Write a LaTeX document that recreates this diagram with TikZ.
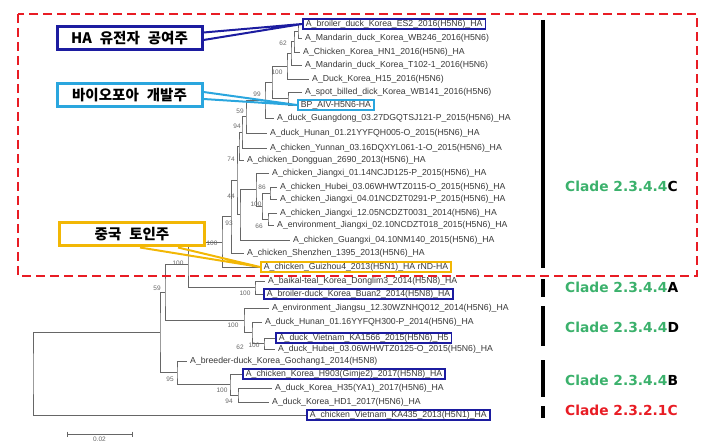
\documentclass[tikz,border=0pt]{standalone}
\usepackage{fontspec}
\setmainfont{Liberation Sans}
\newfontfamily\kofont{Noto Sans CJK KR}
\newfontfamily\cladefont{DejaVu Sans}
\usetikzlibrary{calc}

\definecolor{cladegreen}{HTML}{3BB16C}
\definecolor{dashred}{HTML}{E81C24}
\definecolor{navyline}{HTML}{1C1CA0}
\definecolor{skyline}{HTML}{2AA6DE}
\definecolor{goldline}{HTML}{F2B705}
\definecolor{treegray}{HTML}{666666}
\definecolor{labgray}{HTML}{383838}

\newcommand{\wgap}{\hspace{0.55em}}

\begin{document}
\begin{tikzpicture}[x=1pt, y=-1pt,
  branch/.style = {draw=treegray, line width=0.7pt},
  tip/.style = {anchor=west, inner xsep=3pt, inner ysep=1.2pt, text=labgray, text height=6.4pt, text depth=1.9pt, font=\fontsize{8.7}{10}\selectfont},
  hilite/.style = {draw=#1, line width=1.8pt},
  boot/.style = {text=treegray, inner sep=0pt, font=\fontsize{6.5}{7}\selectfont},
  callout/.style = {draw=#1, line width=3pt, fill=white, minimum width=145, minimum height=23, inner sep=0pt, font=\kofont\bfseries\fontsize{14.5}{16}\selectfont},
  pointer/.style = {draw=#1, line width=2pt, line join=round},
  clade/.style = {anchor=west, inner sep=0pt, font=\cladefont\bfseries\fontsize{13.8}{16}\selectfont},
  cladebar/.style = {line width=3.2pt}]
\useasboundingbox (0,0) rectangle (717,446);

% tips
\node[tip, hilite=navyline] (t1) at (302,24) {A\_broiler\_duck\_Korea\_ES2\_2016(H5N6)\_HA};
\node[tip] (t2) at (302,38) {A\_Mandarin\_duck\_Korea\_WB246\_2016(H5N6)};
\node[tip] (t3) at (300,52) {A\_Chicken\_Korea\_HN1\_2016(H5N6)\_HA};
\node[tip] (t4) at (302,65) {A\_Mandarin\_duck\_Korea\_T102-1\_2016(H5N6)};
\node[tip] (t5) at (309,79) {A\_Duck\_Korea\_H15\_2016(H5N6)};
\node[tip] (t6) at (302,92) {A\_spot\_billed\_dick\_Korea\_WB141\_2016(H5N6)};
\node[tip, hilite=skyline] (t7) at (297,105) {BP\_AIV-H5N6-HA};
\node[tip] (t8) at (274,118) {A\_duck\_Guangdong\_03.27DGQTSJ121-P\_2015(H5N6)\_HA};
\node[tip] (t9) at (267,133) {A\_duck\_Hunan\_01.21YYFQH005-O\_2015(H5N6)\_HA};
\node[tip] (t10) at (267,148) {A\_chicken\_Yunnan\_03.16DQXYL061-1-O\_2015(H5N6)\_HA};
\node[tip] (t11) at (244,160) {A\_chicken\_Dongguan\_2690\_2013(H5N6)\_HA};
\node[tip] (t12) at (269,173) {A\_chicken\_Jiangxi\_01.14NCJD125-P\_2015(H5N6)\_HA};
\node[tip] (t13) at (277,187) {A\_chicken\_Hubei\_03.06WHWTZ0115-O\_2015(H5N6)\_HA};
\node[tip] (t14) at (277,199) {A\_chicken\_Jiangxi\_04.01NCDZT0291-P\_2015(H5N6)\_HA};
\node[tip] (t15) at (277,213) {A\_chicken\_Jiangxi\_12.05NCDZT0031\_2014(H5N6)\_HA};
\node[tip] (t16) at (274,225) {A\_environment\_Jiangxi\_02.10NCDZT018\_2015(H5N6)\_HA};
\node[tip] (t17) at (290,240) {A\_chicken\_Guangxi\_04.10NM140\_2015(H5N6)\_HA};
\node[tip] (t18) at (244,253) {A\_chicken\_Shenzhen\_1395\_2013(H5N6)\_HA};
\node[tip, hilite=goldline] (t19) at (260,267) {A\_chicken\_Guizhou4\_2013(H5N1)\_HA rND-HA};
\node[tip] (t20) at (265,281) {A\_baikal-teal\_Korea\_Donglim3\_2014(H5N8)\_HA};
\node[tip, hilite=navyline] (t21) at (263,294) {A\_broiler-duck\_Korea\_Buan2\_2014(H5N8)\_HA};
\node[tip] (t22) at (269,308) {A\_environment\_Jiangsu\_12.30WZNHQ012\_2014(H5N6)\_HA};
\node[tip] (t23) at (262,322) {A\_duck\_Hunan\_01.16YYFQH300-P\_2014(H5N6)\_HA};
\node[tip, hilite=navyline] (t24) at (275,338) {A\_duck\_Vietnam\_KA1566\_2015(H5N6)\_H5};
\node[tip] (t25) at (275,349) {A\_duck\_Hubei\_03.06WHWTZ0125-O\_2015(H5N6)\_HA};
\node[tip] (t26) at (187,361) {A\_breeder-duck\_Korea\_Gochang1\_2014(H5N8)};
\node[tip, hilite=navyline] (t27) at (242,374) {A\_chicken\_Korea\_H903(Gimje2)\_2017(H5N8)\_HA};
\node[tip] (t28) at (272,388) {A\_duck\_Korea\_H35(YA1)\_2017(H5N6)\_HA};
\node[tip] (t29) at (269,402) {A\_duck\_Korea\_HD1\_2017(H5N6)\_HA};
\node[tip, hilite=navyline] (t30) at (306,415) {A\_chicken\_Vietnam\_KA435\_2013(H5N1)\_HA};

% inner nodes
\coordinate (n1) at (298,31);
\coordinate (n2) at (294,41.5);
\coordinate (n3) at (291,53.25);
\coordinate (n4) at (287,66.1);
\coordinate (n5) at (288,98.5);
\coordinate (n6) at (272,82.3);
\coordinate (n7) at (265,100.2);
\coordinate (n8) at (246,116.6);
\coordinate (n9) at (242,132.3);
\coordinate (n10) at (239,146.2);
\coordinate (j1) at (270,193);
\coordinate (j2) at (268,219);
\coordinate (j3) at (262,206);
\coordinate (j4) at (256,189.5);
\coordinate (j5) at (240,214.8);
\coordinate (cm) at (237,180.5);
\coordinate (cq) at (231,216.8);
\coordinate (cp) at (222,241.9);
\coordinate (ca) at (255,287.5);
\coordinate (cac) at (188,264.7);
\coordinate (d3) at (264,343.5);
\coordinate (d2) at (252,332.8);
\coordinate (d1) at (244,320.4);
\coordinate (n59) at (165,292.6);
\coordinate (b3) at (238,395);
\coordinate (b2) at (230,384.5);
\coordinate (b1) at (177,372.8);
\coordinate (n2344) at (160,332.7);
\coordinate (root) at (33,373.9);

\draw[branch] (t1.west) -| (n1) |- (t2.west);
\draw[branch] (n1) -| (n2) |- (t3.west);
\draw[branch] (n2) -| (n3) |- (t4.west);
\draw[branch] (n3) -| (n4) |- (t5.west);
\draw[branch] (t6.west) -| (n5) |- (t7.west);
\draw[branch] (n4) -| (n6) |- (n5);
\draw[branch] (n6) -| (n7) |- (t8.west);
\draw[branch] (n7) -| (n8) |- (t9.west);
\draw[branch] (n8) -| (n9) |- (t10.west);
\draw[branch] (n9) -| (n10) |- (t11.west);
\draw[branch] (t13.west) -| (j1) |- (t14.west);
\draw[branch] (t15.west) -| (j2) |- (t16.west);
\draw[branch] (j1) -| (j3) |- (j2);
\draw[branch] (t12.west) -| (j4) |- (j3);
\draw[branch] (j4) -| (j5) |- (t17.west);
\draw[branch] (n10) -| (cm) |- (j5);
\draw[branch] (cm) -| (cq) |- (t18.west);
\draw[branch] (cq) -| (cp) |- (t19.west);
\draw[branch] (t20.west) -| (ca) |- (t21.west);
\draw[branch] (cp) -| (cac) |- (ca);
\draw[branch] (t24.west) -| (d3) |- (t25.west);
\draw[branch] (t23.west) -| (d2) |- (d3);
\draw[branch] (t22.west) -| (d1) |- (d2);
\draw[branch] (cac) -| (n59) |- (d1);
\draw[branch] (t28.west) -| (b3) |- (t29.west);
\draw[branch] (t27.west) -| (b2) |- (b3);
\draw[branch] (t26.west) -| (b1) |- (b2);
\draw[branch] (n59) -| (n2344) |- (b1);
\draw[branch] (n2344) -| (root) |- (t30.west);

% bootstrap values
\node[boot] (bs1) at (283,43) {62};
\node[boot] (bs2) at (277,72) {100};
\node[boot] (bs3) at (257,94) {99};
\node[boot] (bs4) at (240,111) {59};
\node[boot] (bs5) at (237,126) {94};
\node[boot] (bs6) at (231,159) {74};
\node[boot] (bs7) at (262,187) {86};
\node[boot] (bs8) at (256,204) {100};
\node[boot] (bs9) at (259,226) {66};
\node[boot] (bs10) at (231,196) {44};
\node[boot] (bs11) at (229,223) {93};
\node[boot] (bs12) at (212,243) {100};
\node[boot] (bs13) at (178,263) {100};
\node[boot] (bs14) at (245,293) {100};
\node[boot] (bs15) at (157,288) {59};
\node[boot] (bs16) at (233,325) {100};
\node[boot] (bs17) at (240,347) {62};
\node[boot] (bs18) at (254,345) {100};
\node[boot] (bs19) at (170,379) {95};
\node[boot] (bs20) at (222,390) {100};
\node[boot] (bs21) at (229,401) {94};

% scale bar
\coordinate (sbL) at (67,434);
\coordinate (sbR) at (132,434);
\draw[branch] (sbL) -- (sbR);
\draw[branch] ($(sbL)+(0,-2.5)$) -- ($(sbL)+(0,2.5)$);
\draw[branch] ($(sbR)+(0,-2.5)$) -- ($(sbR)+(0,2.5)$);
\node[boot, below=3pt] (sbtext) at ($(sbL)!0.5!(sbR)$) {0.02};

% callouts
\node[callout=navyline] (donor) at (129.5,38.5) {HA\wgap 유전자\wgap 공여주};
\node[callout=skyline] (bioprobe) at (129.5,95.5) {바이오포아\wgap 개발주};
\node[callout=goldline] (china) at (132,234.5) {중국\wgap 토인주};
\draw[pointer=navyline] ($(donor.east)+(0,-6)$) -- (t1.west) -- ($(donor.east)+(0,1.5)$);
\draw[pointer=skyline] ($(bioprobe.east)+(0,-3.5)$) -- (t7.west) -- ($(bioprobe.east)+(0,3.5)$);
\draw[pointer=goldline] ($(china.south)+(8,0)$) -- (t19.west) -- ($(china.south)+(46,0)$);

% clades
\draw[dashred, line width=2.8pt, dash pattern=on 9pt off 5pt] (18,14) rectangle (697,276);
\draw[cladebar] (543,20) -- (543,268);
\draw[cladebar] (543,279) -- (543,297);
\draw[cladebar] (543,306) -- (543,346);
\draw[cladebar] (543,360) -- (543,397);
\draw[cladebar] (543,406) -- (543,418);
\node[clade] (cladeC) at (565,186) {\textcolor{cladegreen}{Clade 2.3.4.4}C};
\node[clade] (cladeA) at (565,287) {\textcolor{cladegreen}{Clade 2.3.4.4}A};
\node[clade] (cladeD) at (565,327) {\textcolor{cladegreen}{Clade 2.3.4.4}D};
\node[clade] (cladeB) at (565,380) {\textcolor{cladegreen}{Clade 2.3.4.4}B};
\node[clade, text=dashred] (cladeV) at (565,410) {Clade 2.3.2.1C};

\end{tikzpicture}
\end{document}
